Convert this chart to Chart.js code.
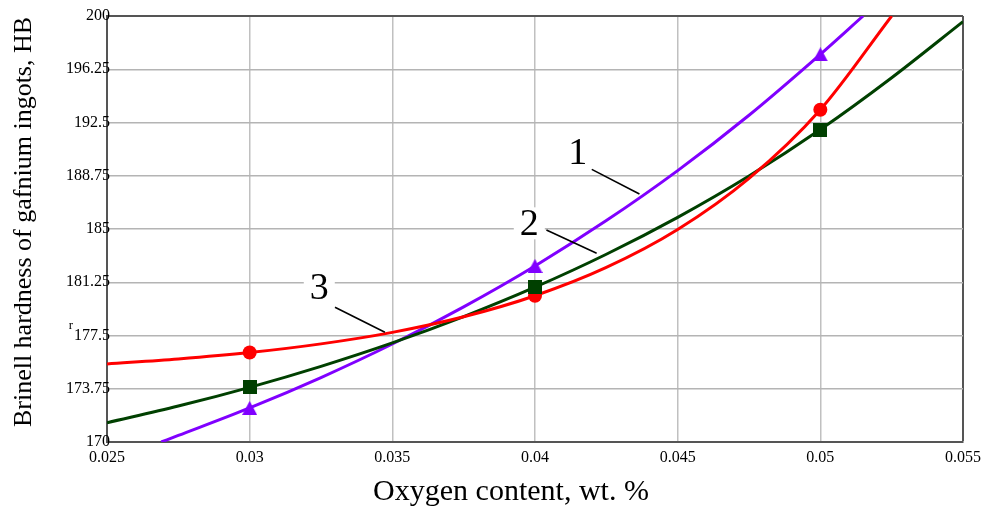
<!DOCTYPE html>
<html>
<head>
<meta charset="utf-8">
<script src="https://cdn.jsdelivr.net/npm/chart.js@4/dist/chart.umd.min.js"></script>
<style>
  html, body { margin: 0; padding: 0; background: #fff; }
  #wrap { position: relative; width: 990px; height: 506px; }
</style>
</head>
<body>
<div id="wrap"><canvas id="hardness" width="990" height="506"></canvas></div>
<script>
// values
const xTicks = [0.025, 0.03, 0.035, 0.04, 0.045, 0.05, 0.055];
const yTicks = [170, 173.75, 177.5, 181.25, 185, 188.75, 192.5, 196.25, 200];

const curve1X = [0.0269, 0.0275, 0.03, 0.0325, 0.035, 0.0375, 0.04, 0.0425, 0.045, 0.0475, 0.05, 0.0515];
const curve1Y = [170, 170.46, 172.4, 174.54, 176.9, 179.52, 182.4, 185.59, 189.11, 193.01, 197.3, 200];

const curve2X = [0.025, 0.0275, 0.03, 0.0325, 0.035, 0.0375, 0.04, 0.0425, 0.045, 0.0475, 0.05, 0.0525, 0.055];
const curve2Y = [171.36, 172.53, 173.85, 175.33, 176.98, 178.83, 180.9, 183.22, 185.82, 188.73, 192.0, 195.65, 199.6];

const curve3X = [0.025, 0.0275, 0.03, 0.0325, 0.035, 0.0375, 0.04, 0.0425, 0.045, 0.0475, 0.05, 0.0525];
const curve3Y = [175.5, 175.85, 176.3, 176.91, 177.72, 178.82, 180.3, 182.29, 184.96, 188.56, 193.4, 200];

const measuredX = [0.03, 0.04, 0.05];
const measured1 = [172.4, 182.4, 197.3];
const measured2 = [173.85, 180.9, 192.0];
const measured3 = [176.3, 180.3, 193.4];

const PURPLE = "#8000ff";
const GREEN = "#004000";
const RED = "#ff0000";
const SERIF = "'Liberation Serif', 'DejaVu Serif', serif";

// curve labels with leader lines, in data units
const callouts = [
  { text: "1", at: [0.0415, 190.44], from: [0.04199, 189.2], to: [0.04366, 187.46] },
  { text: "2", at: [0.0398, 185.4], from: [0.0404, 184.93], to: [0.04216, 183.29] },
  { text: "3", at: [0.03244, 180.94], from: [0.03299, 179.49], to: [0.03474, 177.73] },
];

function pts(xs, ys) {
  return xs.map((x, i) => ({ x, y: ys[i] }));
}

function markerCanvas(kind, color) {
  const c = document.createElement("canvas");
  const g = c.getContext("2d");
  if (kind === "tri") {
    c.width = 15; c.height = 14;
    g.fillStyle = color;
    g.beginPath();
    g.moveTo(7.5, 0);
    g.lineTo(15, 14);
    g.lineTo(0, 14);
    g.closePath();
    g.fill();
  } else {
    c.width = 14; c.height = 14;
    g.fillStyle = color;
    g.fillRect(0, 0, 14, 14);
  }
  return c;
}

const decorations = {
  id: "decorations",
  afterDraw(chart) {
    const { ctx, scales } = chart;
    const sx = scales.x, sy = scales.y;
    ctx.save();

    // y tick labels: drawn here so they can overlap the axis line like the original
    ctx.fillStyle = "#000";
    ctx.font = "16px " + SERIF;
    ctx.textAlign = "right";
    ctx.textBaseline = "middle";
    yTicks.forEach((v) => {
      ctx.fillText(String(v), sx.left + 3, sy.getPixelForValue(v));
    });

    callouts.forEach((c) => {
      ctx.strokeStyle = "#000";
      ctx.lineWidth = 1.6;
      ctx.beginPath();
      ctx.moveTo(sx.getPixelForValue(c.from[0]), sy.getPixelForValue(c.from[1]));
      ctx.lineTo(sx.getPixelForValue(c.to[0]), sy.getPixelForValue(c.to[1]));
      ctx.stroke();

      const px = sx.getPixelForValue(c.at[0]);
      const py = sy.getPixelForValue(c.at[1]);
      ctx.font = "38px " + SERIF;
      const w = ctx.measureText(c.text).width;
      ctx.fillStyle = "#fff";
      ctx.fillRect(px - w / 2 - 6, py - 16, w + 12, 32);
      ctx.fillStyle = "#000";
      ctx.textAlign = "center";
      ctx.textBaseline = "middle";
      ctx.fillText(c.text, px, py + 2);
    });

    // axis titles
    ctx.fillStyle = "#000";
    ctx.textAlign = "center";
    ctx.textBaseline = "middle";
    ctx.font = "30px " + SERIF;
    ctx.fillText("Oxygen content, wt. %", 511, 492);

    ctx.save();
    ctx.translate(24, 222);
    ctx.rotate(-Math.PI / 2);
    ctx.font = "26px " + SERIF;
    ctx.fillText("Brinell hardness of gafnium ingots, HB", 0, 0);
    ctx.restore();

    ctx.font = "13px " + SERIF;
    ctx.fillText("r", 71, 326);
    ctx.restore();
  },
};

const lineStyle = {
  showLine: true,
  borderWidth: 3,
  pointRadius: 0,
  pointHoverRadius: 0,
  cubicInterpolationMode: "monotone",
};

new Chart(document.getElementById("hardness"), {
  type: "scatter",
  data: {
    datasets: [
      { data: pts(measuredX, measured2), pointStyle: markerCanvas("sq", GREEN), showLine: false },
      { data: pts(measuredX, measured3), pointStyle: "circle", pointRadius: 7, backgroundColor: RED, borderWidth: 0, showLine: false },
      { data: pts(measuredX, measured1), pointStyle: markerCanvas("tri", PURPLE), showLine: false },
      { ...lineStyle, data: pts(curve3X, curve3Y), borderColor: RED },
      { ...lineStyle, data: pts(curve2X, curve2Y), borderColor: GREEN },
      { ...lineStyle, data: pts(curve1X, curve1Y), borderColor: PURPLE },
    ],
  },
  options: {
    responsive: false,
    animation: false,
    events: [],
    layout: { padding: { left: 0, right: 27, top: 16, bottom: 0 } },
    plugins: { legend: { display: false }, tooltip: { enabled: false } },
    scales: {
      x: {
        type: "linear",
        min: 0.025,
        max: 0.055,
        afterFit: (s) => { s.height = 64; },
        afterBuildTicks: (s) => { s.ticks = xTicks.map((v) => ({ value: v })); },
        ticks: {
          callback: (v) => String(v),
          color: "#000",
          font: { family: SERIF, size: 16 },
          padding: 6,
          maxRotation: 0,
          autoSkip: false,
        },
        grid: {
          color: (c) => (c.tick && c.tick.value === 0.055 ? "#555" : "#c0c0c0"),
          lineWidth: (c) => (c.tick && c.tick.value === 0.055 ? 2 : 1.5),
          drawTicks: false,
        },
        border: { color: "#555", width: 2 },
      },
      y: {
        type: "linear",
        min: 170,
        max: 200,
        afterFit: (s) => { s.width = 107; },
        afterBuildTicks: (s) => { s.ticks = yTicks.map((v) => ({ value: v })); },
        ticks: { display: false },
        grid: {
          color: (c) => (c.tick && c.tick.value === 200 ? "#555" : "#b4b4b4"),
          lineWidth: (c) => (c.tick && c.tick.value === 200 ? 2 : 1.5),
          drawTicks: false,
        },
        border: { color: "#555", width: 2 },
      },
    },
  },
  plugins: [decorations],
});
</script>
</body>
</html>
